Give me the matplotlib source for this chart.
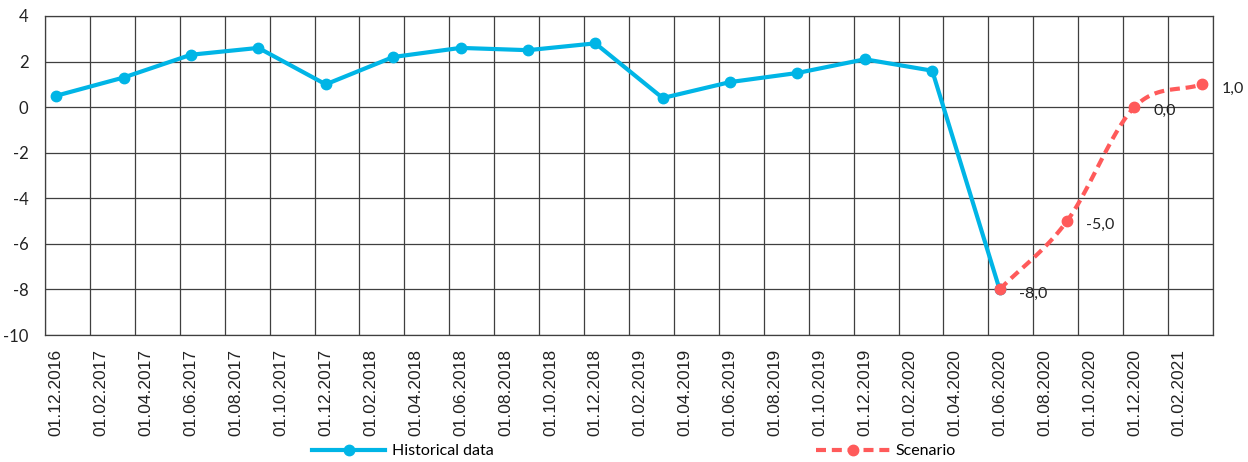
import numpy as np
import pandas as pd
import matplotlib.pyplot as plt
from matplotlib import font_manager

plt.rcParams["axes.unicode_minus"] = False

# Data (quarterly points)
hist_dates = ["01.12.2016", "01.03.2017", "01.06.2017", "01.09.2017", "01.12.2017",
              "01.03.2018", "01.06.2018", "01.09.2018", "01.12.2018", "01.03.2019",
              "01.06.2019", "01.09.2019", "01.12.2019", "01.03.2020", "01.06.2020"]
hist_values = [0.5, 1.3, 2.3, 2.6, 1.0, 2.2, 2.6, 2.5, 2.8, 0.4, 1.1, 1.5, 2.1, 1.6, -8.0]

scen_dates = ["01.06.2020", "01.09.2020", "01.12.2020", "01.03.2021"]
scen_values = [-8.0, -5.0, 0.0, 1.0]

start = pd.Timestamp("2016-12-01")
end = pd.Timestamp("2021-03-01")


def month_index(s):
    d = pd.to_datetime(s, format="%d.%m.%Y")
    return (d.year - start.year) * 12 + (d.month - start.month)


hist_x = np.array([month_index(d) for d in hist_dates])
scen_x = np.array([month_index(d) for d in scen_dates])
n_months = month_index(end.strftime("%d.%m.%Y")) + 1

tick_pos = np.arange(0, n_months, 2)
tick_labels = [(start + pd.DateOffset(months=int(m))).strftime("%d.%m.%Y") for m in tick_pos]

available = {f.name for f in font_manager.fontManager.ttflist}
narrow = "Liberation Sans Narrow" if "Liberation Sans Narrow" in available else "Liberation Sans"
main_font = "Lato"


def catmull_rom(x, y, n=30):
    # smooth line through the points, like Excel's "smoothed line"
    px = np.concatenate([[2 * x[0] - x[1]], x, [2 * x[-1] - x[-2]]])
    py = np.concatenate([[2 * y[0] - y[1]], y, [2 * y[-1] - y[-2]]])
    xs, ys = [], []
    for i in range(1, len(px) - 2):
        t = np.linspace(0, 1, n)
        for p, out in ((px, xs), (py, ys)):
            p0, p1, p2, p3 = p[i - 1], p[i], p[i + 1], p[i + 2]
            out.extend(0.5 * ((2 * p1) + (-p0 + p2) * t
                              + (2 * p0 - 5 * p1 + 4 * p2 - p3) * t ** 2
                              + (-p0 + 3 * p1 - 3 * p2 + p3) * t ** 3))
    return np.array(xs), np.array(ys)


blue = "#00b5e6"
red = "#ff5a5a"
grid_c = "#3f3f3f"

fig = plt.figure(figsize=(12.48, 4.62), dpi=100)
ax = fig.add_axes([45 / 1248, 1 - 335 / 462, (1213 - 45) / 1248, (335 - 16) / 462])

ax.plot(hist_x, hist_values, color=blue, lw=3, marker="o", ms=7.5, zorder=3,
        label="Historical data")
sx, sy = catmull_rom(scen_x.astype(float), np.array(scen_values))
ax.plot(sx, sy, color=red, lw=3, ls=(0, (2.4, 1.4)), zorder=4)
ax.plot(scen_x, scen_values, color=red, lw=0, marker="o", ms=7.5, zorder=5)
ax.plot([], [], color=red, lw=3, ls=(0, (2.4, 1.4)), marker="o", ms=7.5, label="Scenario")

for x, v in zip(scen_x, scen_values):
    ax.annotate(f"{v:.1f}".replace(".", ","), (x, v), xytext=(14, -3),
                textcoords="offset points", ha="left", va="center",
                fontsize=11.5, family=main_font, color="#222222", zorder=6)

ax.set_xlim(-0.5, n_months - 0.5)
ax.set_ylim(-10, 4)
ax.set_yticks(np.arange(-10, 5, 2))
ax.set_xticks(tick_pos)
ax.set_xticklabels(tick_labels, rotation=90, family=narrow, fontsize=12.5, color="#222222")
for lab in ax.get_yticklabels():
    lab.set_family(main_font)
    lab.set_fontsize(12)
    lab.set_color("#222222")
ax.tick_params(axis="both", length=0)
ax.tick_params(axis="x", pad=10)
ax.tick_params(axis="y", pad=12)

ax.set_xticks(np.arange(-0.5, n_months, 2), minor=True)
ax.grid(True, which="minor", axis="x", color=grid_c, lw=0.9)
ax.grid(True, which="major", axis="y", color=grid_c, lw=0.9)
ax.tick_params(axis="x", which="minor", length=0)
for s in ax.spines.values():
    s.set_color(grid_c)
    s.set_linewidth(0.9)

fig.legend(loc="center", bbox_to_anchor=(0.508, 1 - 451 / 462), ncol=2, frameon=False,
           handlelength=4.6, columnspacing=20.2, handletextpad=0.4,
           prop={"family": main_font, "size": 11.5})

fig.savefig("out.png", dpi=100)
